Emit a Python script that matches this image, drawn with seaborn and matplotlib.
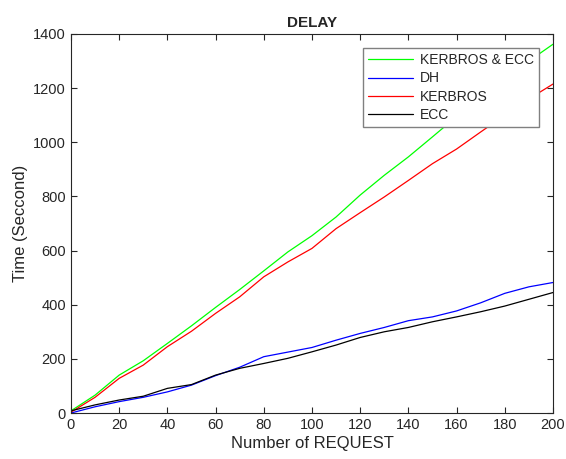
import numpy as np
import pandas as pd
import matplotlib
matplotlib.use("Agg")
import matplotlib.pyplot as plt
import seaborn as sns

# values
requests = [0, 10, 20, 30, 40, 50, 60, 70, 80, 90, 100, 110, 120, 130, 140, 150, 160, 170, 180, 190, 200]
kerbros_ecc = [8, 66, 140, 193, 257, 322, 390, 456, 525, 595, 655, 724, 805, 878, 946, 1020, 1095, 1165, 1235, 1300, 1362]
dh = [0, 23, 42, 58, 78, 103, 138, 169, 208, 225, 242, 269, 294, 316, 341, 355, 377, 407, 442, 466, 482]
kerbros = [3, 58, 128, 177, 245, 302, 368, 429, 503, 558, 608, 681, 740, 798, 859, 921, 975, 1038, 1100, 1160, 1215]
ecc = [8, 30, 48, 62, 91, 105, 140, 165, 183, 202, 226, 251, 279, 300, 316, 337, 355, 374, 395, 420, 445]

series_names = ["KERBROS & ECC", "DH", "KERBROS", "ECC"]
series_colors = ["#00ff00", "#0000ff", "#ff0000", "#000000"]

df = pd.DataFrame({
    "Number of REQUEST": requests * 4,
    "Time": kerbros_ecc + dh + kerbros + ecc,
    "Method": sum([[n] * len(requests) for n in series_names], []),
})

sns.set_style("ticks")
plt.rcParams["font.family"] = ["Liberation Sans", "DejaVu Sans"]

fig = plt.figure(figsize=(5.66, 4.59), dpi=100)
ax = fig.add_axes([0.1254, 0.1002, 0.8516, 0.8258])

sns.lineplot(data=df, x="Number of REQUEST", y="Time", hue="Method",
             palette=dict(zip(series_names, series_colors)), linewidth=0.9, ax=ax)

ax.set_xlim(0, 200)
ax.set_ylim(0, 1400)
ax.set_xticks(np.arange(0, 201, 20))
ax.set_yticks(np.arange(0, 1401, 200))
ax.tick_params(direction="in", top=True, right=True, labelsize=10.5, length=4, colors="#262626")
for s in ax.spines.values():
    s.set_color("#262626")
    s.set_linewidth(0.8)

ax.set_xlabel("Number of REQUEST", fontsize=12, color="#262626", labelpad=3)
ax.set_ylabel("Time (Seccond)", fontsize=12, color="#262626")
ax.set_title("DELAY", fontsize=11, fontweight="bold", pad=5)

leg = ax.legend(loc="upper right", bbox_to_anchor=(0.986, 0.982), fontsize=10,
                frameon=True, fancybox=False, framealpha=1, edgecolor="#808080",
                handlelength=3.2, handletextpad=0.5, borderpad=0.4, labelspacing=0.3)
leg.get_frame().set_linewidth(1.0)

fig.savefig("out.png", dpi=100)
